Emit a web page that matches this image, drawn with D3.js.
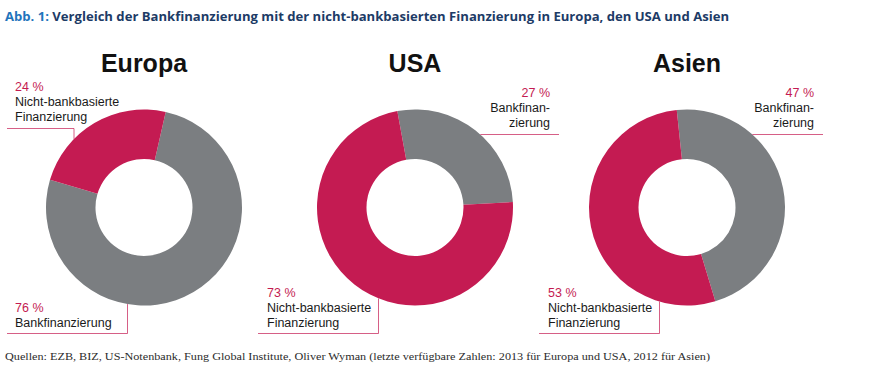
<!DOCTYPE html>
<html>
<head>
<meta charset="utf-8">
<script src="https://cdn.jsdelivr.net/npm/d3@7"></script>
<style>
    body { margin: 0; background: #fff; }
    svg { display: block; }
</style>
</head>
<body>
<script>
// data
const regions = ["Europa", "USA", "Asien"]
const bankShare = [76, 27, 47]
const nonBankShare = [24, 73, 53]
const bankLabel = [["Bankfinanzierung"], ["Bankfinan-", "zierung"], ["Bankfinan-", "zierung"]]
const nonBankLabel = [["Nicht-bankbasierte", "Finanzierung"], ["Nicht-bankbasierte", "Finanzierung"], ["Nicht-bankbasierte", "Finanzierung"]]

const WIDTH = 876
const HEIGHT = 388

const RED = "#c41b52"
const GRAY = "#7b7e81"

// layout for each donut
const CENTER_X = [144, 415, 687]
const CENTER_Y = 207.5
const OUTER = 98
const INNER = 48.5
const START_DEG = [12.8, -10.4, -6]

// where each label sits, and its leader line
const LABELS = [
    {
        top: { key: "nonbank", x: 15, anchor: "start", y: 91, lineY: 128.5, x0: 7, x1: 74, legX: 74 },
        bottom: { key: "bank", x: 15, anchor: "start", y: 311.5, lineY: 333.5, x0: 7, x1: 127.5, legX: 127.5 }
    },
    {
        top: { key: "bank", x: 550, anchor: "end", y: 97, lineY: 134.5, x0: null, x1: 559 },
        bottom: { key: "nonbank", x: 267, anchor: "start", y: 296.5, lineY: 333.5, x0: 258, x1: 378.5, legX: 378.5 }
    },
    {
        top: { key: "bank", x: 814, anchor: "end", y: 97, lineY: 134.5, x0: null, x1: 823 },
        bottom: { key: "nonbank", x: 548, anchor: "start", y: 296.5, lineY: 333.5, x0: 539, x1: 659.5, legX: 659.5 }
    }
]

const svg = d3.select("body")
    .append("svg")
    .attr("width", WIDTH)
    .attr("height", HEIGHT)
    .style("font-family", "'Liberation Sans', Arial, sans-serif")

// header
const header = svg.append("text")
    .attr("x", 5)
    .attr("y", 20.5)
    .attr("textLength", 724)
    .attr("lengthAdjust", "spacingAndGlyphs")
    .style("font-family", "'Open Sans', 'Noto Sans', sans-serif")
    .style("font-size", "13px")
    .style("font-weight", "bold")

header.append("tspan")
    .style("fill", "#1f74bc")
    .text("Abb. 1: ")

header.append("tspan")
    .style("fill", "#1d3b66")
    .text("Vergleich der Bankfinanzierung mit der nicht-bankbasierten Finanzierung in Europa, den USA und Asien")

// footnote
svg.append("text")
    .attr("x", 5)
    .attr("y", 359.5)
    .attr("textLength", 705)
    .attr("lengthAdjust", "spacingAndGlyphs")
    .style("font-family", "'Liberation Serif', 'DejaVu Serif', serif")
    .style("font-size", "10.5px")
    .style("fill", "#2b2b2b")
    .text("Quellen: EZB, BIZ, US-Notenbank, Fung Global Institute, Oliver Wyman (letzte verfügbare Zahlen: 2013 für Europa und USA, 2012 für Asien)")

const arc = d3.arc()
    .innerRadius(INNER)
    .outerRadius(OUTER)

regions.forEach((region, i) => {
    const cx = CENTER_X[i]
    const start = START_DEG[i] * Math.PI / 180

    const pie = d3.pie()
        .sort(null)
        .value(d => d.value)
        .startAngle(start)
        .endAngle(start + 2 * Math.PI)

    const slices = [
        { key: "bank", value: bankShare[i], color: GRAY },
        { key: "nonbank", value: nonBankShare[i], color: RED }
    ]

    const g = svg.append("g")
        .attr("transform", "translate(" + cx + ", " + CENTER_Y + ")")

    g.selectAll("path")
        .data(pie(slices))
        .enter()
        .append("path")
        .attr("d", arc)
        .attr("fill", d => d.data.color)

    svg.append("text")
        .attr("x", cx)
        .attr("y", 72)
        .attr("text-anchor", "middle")
        .style("font-size", "25px")
        .style("font-weight", "bold")
        .style("fill", "#111")
        .text(region)

    // labels + leader lines
    const labs = [LABELS[i].top, LABELS[i].bottom]
    labs.forEach(lab => {
        const isBank = lab.key === "bank"
        const pct = isBank ? bankShare[i] : nonBankShare[i]
        const lines = isBank ? bankLabel[i] : nonBankLabel[i]

        const t = svg.append("text")
            .attr("text-anchor", lab.anchor)
            .style("font-size", "12.5px")

        t.append("tspan")
            .attr("x", lab.x)
            .attr("y", lab.y)
            .style("fill", RED)
            .text(pct + " %")

        lines.forEach((line, k) => {
            t.append("tspan")
                .attr("x", lab.x)
                .attr("y", lab.y + 15 * (k + 1))
                .style("fill", "#1a1a1a")
                .text(line)
        })

        // leader line, ends on the ring edge
        const dy = lab.lineY - CENTER_Y
        let pts
        if (lab.x0 === null) {
            const edgeX = cx + Math.sqrt(OUTER * OUTER - dy * dy)
            pts = [[edgeX, lab.lineY], [lab.x1, lab.lineY]]
        } else {
            const dx = lab.legX - cx
            const edge = Math.sqrt(OUTER * OUTER - dx * dx)
            const edgeY = dy < 0 ? CENTER_Y - edge : CENTER_Y + edge
            pts = [[lab.x0, lab.lineY], [lab.legX, lab.lineY], [lab.legX, edgeY]]
        }

        svg.append("path")
            .attr("d", d3.line()(pts))
            .attr("fill", "none")
            .attr("stroke", RED)
            .attr("stroke-opacity", 0.7)
            .attr("stroke-width", 1)
    })
})
</script>
</body>
</html>
